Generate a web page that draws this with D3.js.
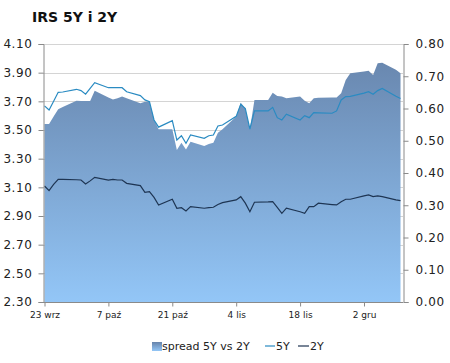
<!DOCTYPE html>
<html>
<head>
<meta charset="utf-8">
<script src="https://cdn.jsdelivr.net/npm/d3@7"></script>
<style>
  body { margin: 0; background: #fff; }
  svg text { font-family: "DejaVu Sans", Verdana, sans-serif; fill: #222; }
</style>
</head>
<body>
<svg id="chart" width="450" height="363"></svg>
<script>
// business days, Sep 23 - Dec 10
const dates = [
  "2013-09-23","2013-09-24","2013-09-25","2013-09-26","2013-09-27","2013-09-30",
  "2013-10-01","2013-10-02","2013-10-03","2013-10-04","2013-10-07","2013-10-08","2013-10-09","2013-10-10","2013-10-11",
  "2013-10-14","2013-10-15","2013-10-16","2013-10-17","2013-10-18","2013-10-21","2013-10-22","2013-10-23","2013-10-24",
  "2013-10-25","2013-10-28","2013-10-29","2013-10-30","2013-10-31",
  "2013-11-01","2013-11-04","2013-11-05","2013-11-06","2013-11-07","2013-11-08","2013-11-11","2013-11-12","2013-11-13",
  "2013-11-14","2013-11-15","2013-11-18","2013-11-19","2013-11-20","2013-11-21","2013-11-22","2013-11-25","2013-11-26",
  "2013-11-27","2013-11-28","2013-11-29",
  "2013-12-02","2013-12-03","2013-12-04","2013-12-05","2013-12-06","2013-12-09","2013-12-10"
];

const irs5y = [
  3.668, 3.64, 3.70, 3.763, 3.765, 3.784,
  3.775, 3.75, 3.79, 3.83, 3.795, 3.795, 3.795, 3.795, 3.767, 3.74, 3.71, 3.698, 3.57, 3.52,
  3.565, 3.43, 3.46, 3.407, 3.465, 3.442, 3.46, 3.465, 3.528,
  3.535, 3.595, 3.68, 3.65, 3.507, 3.633, 3.633, 3.658, 3.586, 3.57, 3.61, 3.57, 3.60, 3.586,
  3.621, 3.62, 3.617, 3.633, 3.71, 3.733, 3.735,
  3.757, 3.767, 3.75, 3.775, 3.79, 3.735, 3.72
];

const irs2y = [
  3.109, 3.077, 3.12, 3.156, 3.155, 3.153,
  3.151, 3.123, 3.145, 3.17, 3.151, 3.155, 3.151, 3.151, 3.128, 3.112, 3.065, 3.07, 3.03, 2.977,
  3.017, 2.954, 2.958, 2.935, 2.965, 2.954, 2.958, 2.961, 2.98,
  2.993, 3.012, 3.035, 2.99, 2.93, 2.996, 2.998, 3.0, 2.96, 2.919, 2.955, 2.93, 2.919, 2.965,
  2.965, 2.989, 2.98, 2.977, 3.0, 3.017, 3.017,
  3.04, 3.047, 3.035, 3.04, 3.035, 3.012, 3.007
];

const spread = [
  0.552, 0.552, 0.575, 0.598, 0.605, 0.624,
  0.623, 0.623, 0.623, 0.655, 0.634, 0.628, 0.632, 0.637, 0.632, 0.616, 0.621, 0.621, 0.565, 0.536,
  0.536, 0.471, 0.494, 0.473, 0.497, 0.484, 0.49, 0.494, 0.525,
  0.536, 0.575, 0.618, 0.60, 0.536, 0.626, 0.626, 0.649, 0.639, 0.637, 0.632, 0.637, 0.624, 0.616,
  0.632, 0.633, 0.634, 0.634, 0.647, 0.688, 0.709,
  0.715, 0.717, 0.704, 0.74, 0.742, 0.72, 0.709
];

const leftTicks = [2.30, 2.50, 2.70, 2.90, 3.10, 3.30, 3.50, 3.70, 3.90, 4.10];
const rightTicks = [0, 0.1, 0.2, 0.3, 0.4, 0.5, 0.6, 0.7, 0.8];
const xTickDates = ["2013-09-23","2013-10-07","2013-10-21","2013-11-04","2013-11-18","2013-12-02"];
const monthsPl = ["sty","lut","mar","kwi","maj","cze","lip","sie","wrz","paź","lis","gru"];
const legendNames = ["spread 5Y vs 2Y", "5Y", "2Y"];

const parse = d3.utcParse("%Y-%m-%d");
const rows = dates.map((d, i) => ({ date: parse(d), y5: irs5y[i], y2: irs2y[i], s: spread[i] }));

const svg = d3.select("#chart");
const plotL = 43, plotR = 403, plotT = 44, plotB = 302;

const x = d3.scaleUtc().domain([parse("2013-09-23"), parse("2013-12-10")]).range([44.5, 400.5]);
const yL = d3.scaleLinear().domain([2.30, 4.10]).range([plotB, plotT]);
const yR = d3.scaleLinear().domain([0, 0.8]).range([plotB, plotT]);

// gradient for the spread area
const defs = svg.append("defs");
const grad = defs.append("linearGradient").attr("id", "areaGrad")
  .attr("gradientUnits", "userSpaceOnUse")
  .attr("x1", 0).attr("x2", 0).attr("y1", plotT).attr("y2", plotB);
grad.append("stop").attr("offset", "0%").attr("stop-color", "#6683aa");
grad.append("stop").attr("offset", "100%").attr("stop-color", "#93c6f7");

const lgrad = defs.append("linearGradient").attr("id", "legGrad")
  .attr("x1", 0).attr("x2", 0).attr("y1", 0).attr("y2", 1);
lgrad.append("stop").attr("offset", "0%").attr("stop-color", "#6683aa");
lgrad.append("stop").attr("offset", "100%").attr("stop-color", "#93c6f7");

// title
svg.append("text").attr("x", 32).attr("y", 22)
  .style("font-size", "14px").style("font-weight", "bold").style("fill", "#111")
  .text("IRS 5Y i 2Y");

// grid lines
svg.append("g").selectAll("line").data(leftTicks).join("line")
  .attr("x1", plotL).attr("x2", plotR)
  .attr("y1", d => Math.round(yL(d)) + 0.5).attr("y2", d => Math.round(yL(d)) + 0.5)
  .attr("stroke", "#d4d4d4");

// spread area (right axis)
const area = d3.area().x(d => x(d.date)).y0(yR(0)).y1(d => yR(d.s));
svg.append("path").datum(rows).attr("d", area).attr("fill", "url(#areaGrad)");

// lines (left axis)
const line5 = d3.line().x(d => x(d.date)).y(d => yL(d.y5));
const line2 = d3.line().x(d => x(d.date)).y(d => yL(d.y2));
svg.append("path").datum(rows).attr("d", line5)
  .attr("fill", "none").attr("stroke", "#2a8bc2").attr("stroke-width", 1.2);
svg.append("path").datum(rows).attr("d", line2)
  .attr("fill", "none").attr("stroke", "#1e3553").attr("stroke-width", 1.2);

// axes
const fmt = d3.format(".2f");
const axL = svg.append("g").attr("transform", `translate(${plotL + 0.5},0)`)
  .call(d3.axisLeft(yL).tickValues(leftTicks).tickFormat(fmt).tickSize(5).tickPadding(6));
const axR = svg.append("g").attr("transform", `translate(${plotR + 0.5},0)`)
  .call(d3.axisRight(yR).tickValues(rightTicks).tickFormat(fmt).tickSize(5).tickPadding(7));
const axB = svg.append("g").attr("transform", `translate(0,${plotB + 0.5})`)
  .call(d3.axisBottom(x).tickValues(xTickDates.map(parse))
    .tickFormat(d => d.getUTCDate() + " " + monthsPl[d.getUTCMonth()]).tickSize(4).tickPadding(5));

[axL, axR, axB].forEach(g => {
  g.select(".domain").attr("stroke", "#8a8a8a");
  g.selectAll(".tick line").attr("stroke", "#8a8a8a");
});
axB.select(".domain").attr("d", `M${plotL},0H${plotR}`);
axL.selectAll("text").style("font-size", "12px").style("letter-spacing", "0.6px").style("fill", "#222");
axR.selectAll("text").style("font-size", "12px").style("letter-spacing", "0.6px").style("fill", "#222");
axB.selectAll("text").style("font-size", "9px").style("fill", "#222");

// legend
const lg = svg.append("g").attr("transform", "translate(152,350)");
lg.append("rect").attr("x", 0).attr("y", -8).attr("width", 10).attr("height", 9).attr("fill", "url(#legGrad)");
lg.append("text").attr("x", 10).attr("y", 0).style("font-size", "11px").text(legendNames[0]);
lg.append("line").attr("x1", 113).attr("x2", 123).attr("y1", -4).attr("y2", -4)
  .attr("stroke", "#2a8bc2").attr("stroke-width", 1.2);
lg.append("text").attr("x", 124).attr("y", 0).style("font-size", "11px").text(legendNames[1]);
lg.append("line").attr("x1", 146).attr("x2", 157).attr("y1", -4).attr("y2", -4)
  .attr("stroke", "#1e3553").attr("stroke-width", 1.2);
lg.append("text").attr("x", 158).attr("y", 0).style("font-size", "11px").text(legendNames[2]);
</script>
</body>
</html>
